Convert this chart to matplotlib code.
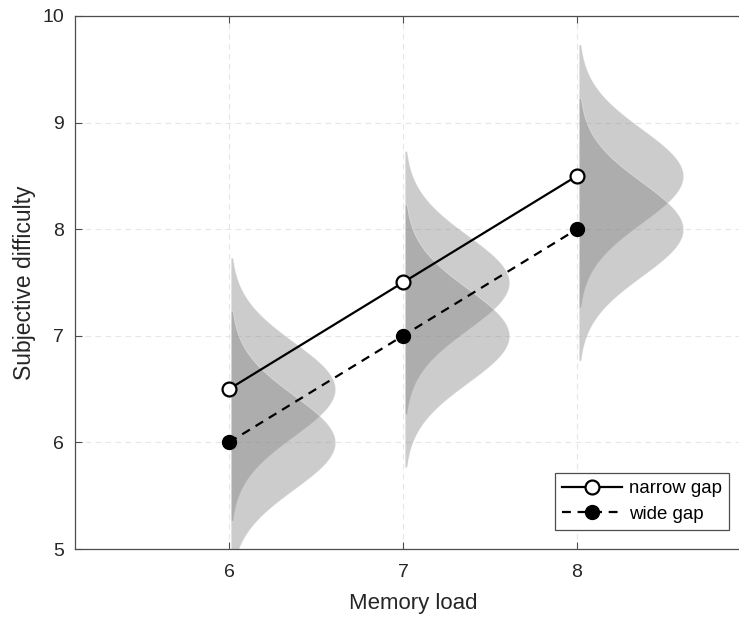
import numpy as np
import matplotlib
matplotlib.use("Agg")
import matplotlib.pyplot as plt

plt.rcParams['font.family'] = ['Liberation Sans', 'DejaVu Sans']

# Condition means per memory load
memory_load = [6, 7, 8]
narrow_gap = [6.5, 7.5, 8.5]
wide_gap = [6.0, 7.0, 8.0]
# Spread of the rating distributions
narrow_sd = [0.44, 0.44, 0.44]
wide_sd = [0.44, 0.44, 0.44]

W, H = 739, 618
fig = plt.figure(figsize=(W / 100, H / 100), dpi=100)
ax = fig.add_axes([75 / W, (H - 549) / H, (751 - 75) / W, 533 / H])

axis_col = '#4d4d4d'
text_col = '#262626'

# half-violin style densities to the right of each load
peak_width = 0.6
offset = 0.01
for x0, m_n, s_n, m_w, s_w in zip(memory_load, narrow_gap, narrow_sd, wide_gap, wide_sd):
    for m, s in ((m_n, s_n), (m_w, s_w)):
        y = np.linspace(m - 2.8 * s, m + 2.8 * s, 300)
        w = peak_width * np.exp(-0.5 * ((y - m) / s) ** 2)
        ax.fill_betweenx(y, x0 + offset, x0 + offset + w, color='#808080',
                         alpha=0.4, linewidth=0.6, edgecolor='white', zorder=2)

ax.plot(memory_load, narrow_gap, '-o', color='black', lw=1.6, ms=10,
        mfc='white', mec='black', mew=1.6, label='narrow gap', zorder=4)
ax.plot(memory_load, wide_gap, '--o', color='black', lw=1.6, ms=10,
        mfc='black', mec='black', dashes=(4, 3), label='wide gap', zorder=4)

ax.set_xlim(5.115, 9.0)
ax.set_ylim(5, 10)
ax.set_xticks([6, 7, 8])
ax.set_yticks([5, 6, 7, 8, 9, 10])
ax.grid(True, linestyle=(0, (5, 4)), color='#e6e6e6', lw=0.8, zorder=0)
ax.set_axisbelow(True)

for sp in ax.spines.values():
    sp.set_color(axis_col)
    sp.set_linewidth(0.9)
ax.tick_params(direction='in', length=5, width=0.8, color=axis_col,
               labelcolor=text_col, labelsize=14, top=True, right=True)
ax.tick_params(axis='x', pad=10.5)
ax.tick_params(axis='y', pad=8)

ax.set_xlabel('Memory load', fontsize=16, color=text_col, labelpad=9)
ax.set_ylabel('Subjective difficulty', fontsize=16.5, color=text_col, labelpad=4.5)

leg = ax.legend(loc='lower right', bbox_to_anchor=(729 / W, (H - 530) / H),
                bbox_transform=fig.transFigure, fontsize=13.4, handlelength=3.2,
                fancybox=False, framealpha=1, edgecolor=axis_col,
                borderaxespad=0, handletextpad=0.35, labelspacing=0.45,
                borderpad=0.4)
leg.get_frame().set_linewidth(0.9)

fig.savefig('out.png', dpi=100)
